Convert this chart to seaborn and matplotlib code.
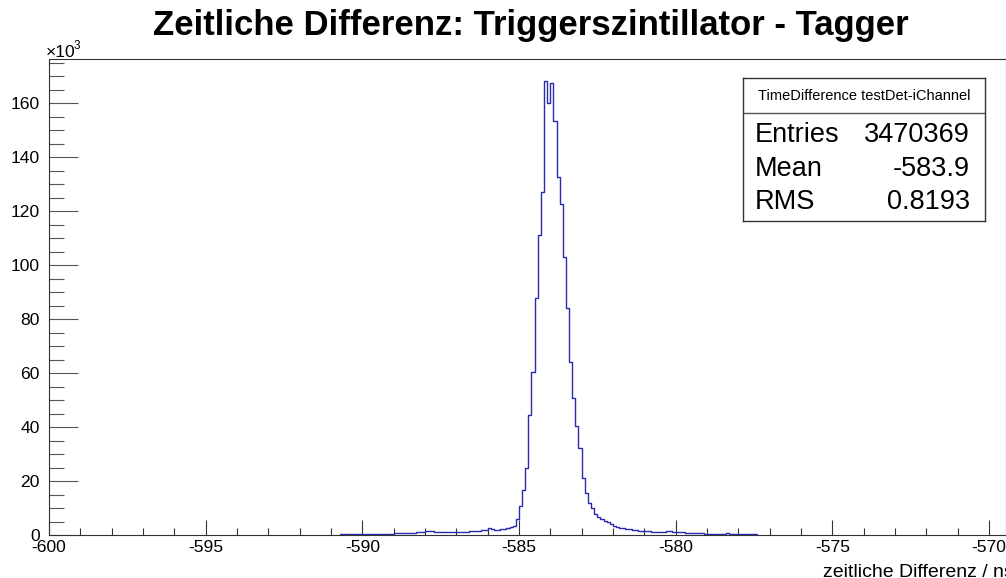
import numpy as np
import pandas as pd
import matplotlib
matplotlib.use("Agg")
import matplotlib.pyplot as plt
import seaborn as sns
from matplotlib.ticker import MultipleLocator, FixedLocator

# ---------------- data (counts in units of 10^3 per 0.1 ns bin) ----------------
bin_start = -590.7      # left edge of first bin (ns)
bin_width = 0.1         # ns
counts_k = [
    # -590.7 .. -589.9
    0.20, 0.20, 0.25, 0.25, 0.25, 0.30, 0.30, 0.30, 0.35,
    # -589.8 .. -589.0
    0.45, 0.50, 0.50, 0.50, 0.50, 0.55, 0.55, 0.55, 0.60,
    # -588.9 .. -588.5
    0.60, 0.60, 0.65, 0.65, 0.70,
    # -588.4 .. -588.1
    0.90, 1.00, 1.00, 1.10,
    # -588.0 .. -587.9
    1.50, 1.40,
    # -587.8 .. -587.5
    1.30, 1.20, 1.20, 1.10,
    # -587.4 .. -587.1
    1.00, 1.00, 1.00, 1.00,
    # -587.0 .. -586.7
    1.10, 1.20, 1.20, 1.20,
    # -586.6 .. -586.1
    1.40, 1.50, 1.60, 1.60, 1.70, 1.80,
    # -586.0 .. -585.9
    2.50, 2.30,
    # -585.8 .. -585.6
    2.00, 2.00, 2.10,
    # -585.5 .. -585.4
    2.30, 2.50,
    # -585.3, -585.2
    2.80, 3.50,
    # -585.1 .. -582.7 (peak)
    5.9, 10.7, 16.5, 25.0, 44.4, 60.5, 87.7, 111.0, 127.0, 168.3,
    160.1, 167.3, 153.4, 132.5, 122.5, 102.8, 84.0, 64.0, 50.6, 40.2,
    32.4, 21.0, 15.4, 12.0, 10.1,
    # -582.6 .. -579.3
    7.6, 6.5, 5.9, 5.3, 4.7, 4.0, 3.5, 3.0, 2.7, 2.5,
    2.3, 2.1, 2.0, 1.8, 1.6, 1.5, 1.4, 1.4, 1.2, 1.1,
    1.1, 1.1, 1.1, 1.5, 1.3, 1.1, 1.1, 1.1, 1.0, 0.9,
    0.9, 0.9, 0.9, 0.8,
    # -579.2 .. -577.5
    0.60, 0.55, 0.50, 0.50, 0.50, 0.50, 0.50, 0.45, 0.70, 0.40,
    0.35, 0.35, 0.35, 0.35, 0.30, 0.30, 0.30, 0.30,
]

title = "Zeitliche Differenz: Triggerszintillator - Tagger"
xlabel = "zeitliche Differenz / ns"
stats_title = "TimeDifference testDet-iChannel"
stats_names = ["Entries", "Mean", "RMS"]
stats_values = ["3470369", "-583.9", "0.8193"]
x_ticks = [-600, -595, -590, -585, -580, -575, -570]
y_ticks = [0, 20, 40, 60, 80, 100, 120, 140, 160]

# ---------------- build frame ----------------
n = len(counts_k)
edges = [round(bin_start + bin_width * i, 3) for i in range(n + 1)]
centers = [(edges[i] + edges[i + 1]) / 2 for i in range(n)]
df = pd.DataFrame({"t": centers, "w": counts_k})

sns.set_theme(style="white")
plt.rcParams["font.family"] = ["Liberation Sans", "DejaVu Sans"]
plt.rcParams["text.color"] = "black"
plt.rcParams["xtick.labelcolor"] = "black"
plt.rcParams["ytick.labelcolor"] = "black"

W, H = 1006, 578
fig = plt.figure(figsize=(W / 100, H / 100), dpi=100)
ax = fig.add_axes([49 / W, 1 - 535 / H, (W - 49) / W, (535 - 59) / H])

sns.histplot(data=df, x="t", weights="w", bins=edges, element="step",
             fill=False, color="#2a2ab0", linewidth=1.0, ax=ax)

ax.set_xlim(-600, -600 + (W - 49) / 31.33)
ax.set_ylim(0, 176.3)
ax.set_xlabel("")
ax.set_ylabel("")

ax.xaxis.set_major_locator(FixedLocator(x_ticks))
ax.xaxis.set_minor_locator(MultipleLocator(1))
ax.yaxis.set_major_locator(FixedLocator(y_ticks))
ax.yaxis.set_minor_locator(MultipleLocator(5))
ax.set_xticklabels([str(v) for v in x_ticks])
ax.set_yticklabels([str(v) for v in y_ticks])

ax.tick_params(axis="x", which="major", direction="in", length=10.8, width=0.8,
               color="#333333", labelsize=12.6, labelcolor="black", pad=3.5,
               bottom=True, top=False)
ax.tick_params(axis="x", which="minor", direction="in", length=5.3, width=0.8,
               color="#333333", bottom=True, top=False)
ax.tick_params(axis="y", which="major", direction="in", length=21, width=0.8,
               color="#555555", labelsize=12.6, labelcolor="black", pad=6.5,
               left=True, right=False)
ax.tick_params(axis="y", which="minor", direction="in", length=10.8, width=0.8,
               color="#555555", left=True, right=False)

for s in ["left", "bottom", "top", "right"]:
    ax.spines[s].set_color("#333333")
    ax.spines[s].set_linewidth(0.8)
ax.grid(False)

# title
fig.text(531 / W, 1 - 25 / H, title, ha="center", va="center",
         fontsize=25, fontweight="bold", color="black")

# x10^3 exponent
fig.text(46 / W, 1 - 57 / H, "\u00d710", ha="left", va="baseline",
         fontsize=12.6, color="black")
fig.text(74 / W, 1 - 49 / H, "3", ha="left", va="baseline",
         fontsize=8.5, color="black")

# x axis title (cut at right edge as in the reference)
fig.text(823 / W, 1 - 577 / H, xlabel, ha="left", va="baseline",
         fontsize=14, color="black")

# stats box
bx0, bx1, by0, by1 = 743, 985, 78, 221
box_ax = fig.add_axes([bx0 / W, 1 - by1 / H, (bx1 - bx0) / W, (by1 - by0) / H])
box_ax.set_xlim(0, bx1 - bx0)
box_ax.set_ylim(by1, by0)
box_ax.set_xticks([])
box_ax.set_yticks([])
box_ax.set_facecolor("white")
for s in box_ax.spines.values():
    s.set_color("#333333")
    s.set_linewidth(1.0)
box_ax.axhline(112.7, color="#555555", linewidth=1.0)
box_ax.text((bx1 - bx0) / 2, 96, stats_title, ha="center", va="center",
            fontsize=10.5, color="black")
row_base = [141.7, 176, 209.3]
for name, val, yy in zip(stats_names, stats_values, row_base):
    box_ax.text(755 - bx0, yy, name, ha="left", va="baseline", fontsize=19.5,
                color="black")
    box_ax.text(970 - bx0, yy, val, ha="right", va="baseline", fontsize=19.5,
                color="black")

fig.savefig("out.png", dpi=100)
